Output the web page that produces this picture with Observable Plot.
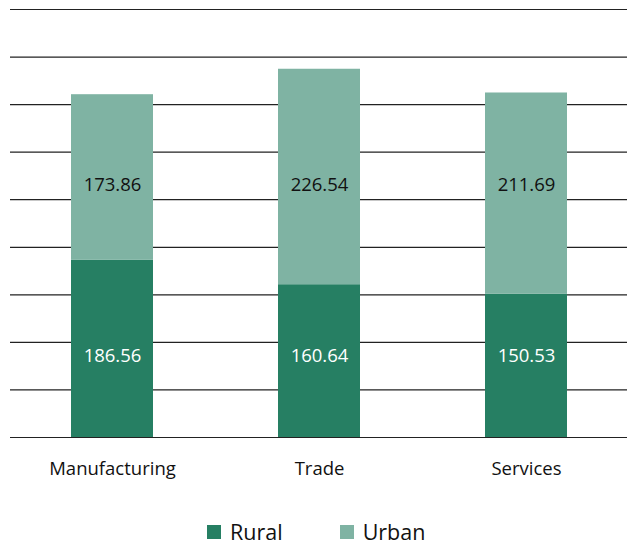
<!DOCTYPE html>
<html>
<head>
<meta charset="utf-8">
<script src="https://cdn.jsdelivr.net/npm/d3@7"></script>
<script src="https://cdn.jsdelivr.net/npm/@observablehq/plot@0.6"></script>
<style>
  body { margin: 0; background: #fff; font-family: "Open Sans", sans-serif; overflow: hidden; }
  #chart svg { display: block; }
  #legend { display: flex; justify-content: flex-start; align-items: center; height: 22px; line-height: 22px; margin-top: 31px; padding-left: 207px; font-size: 21.5px; color: #111; }
  .item { display: flex; align-items: center; margin-right: 57px; }
  .sw { width: 14px; height: 14px; margin-right: 9px; }
</style>
</head>
<body>
<div id="chart"></div>
<div id="legend"></div>
<script>
const categories = ["Manufacturing", "Trade", "Services"];
const series = ["Rural", "Urban"];
const rural = [186.56, 160.64, 150.53];
const urban = [173.86, 226.54, 211.69];
const colors = ["#267f63", "#7fb3a3"];
const gridTicks = d3.range(0, 451, 50);
const labelLevels = [87, 266];

const data = [];
categories.forEach((c, i) => {
  data.push({category: c, series: "Rural", value: rural[i]});
  data.push({category: c, series: "Urban", value: urban[i]});
});

const plot = Plot.plot({
  width: 627,
  height: 490,
  marginLeft: 10,
  marginRight: 0,
  marginTop: 9,
  marginBottom: 53,
  style: {fontFamily: "'Open Sans', sans-serif", fontSize: "18.5px", color: "#111", background: "#fff"},
  x: {domain: categories, paddingInner: 0.605, paddingOuter: 0.289, label: null},
  y: {domain: [0, 450], axis: null},
  color: {domain: series, range: colors},
  marks: [
    Plot.ruleY(gridTicks, {stroke: "#222", strokeWidth: 1.2}),
    Plot.barY(data, Plot.stackY({x: "category", y: "value", fill: "series", order: series})),
    Plot.text(data, {
      x: "category",
      y: d => labelLevels[series.indexOf(d.series)],
      text: d => d.value.toFixed(2),
      fill: d => d.series === "Rural" ? "#ffffff" : "#111111",
      fontSize: 18.5,
      dy: 1
    }),
    Plot.axisX({tickSize: 0, tickPadding: 24, fontSize: 18.5, label: null})
  ]
});
document.getElementById("chart").appendChild(plot);

const legend = document.getElementById("legend");
series.forEach((s, i) => {
  const item = document.createElement("div");
  item.className = "item";
  const sw = document.createElement("span");
  sw.className = "sw";
  sw.style.background = colors[i];
  const t = document.createElement("span");
  t.textContent = s;
  item.appendChild(sw);
  item.appendChild(t);
  legend.appendChild(item);
});
</script>
</body>
</html>
